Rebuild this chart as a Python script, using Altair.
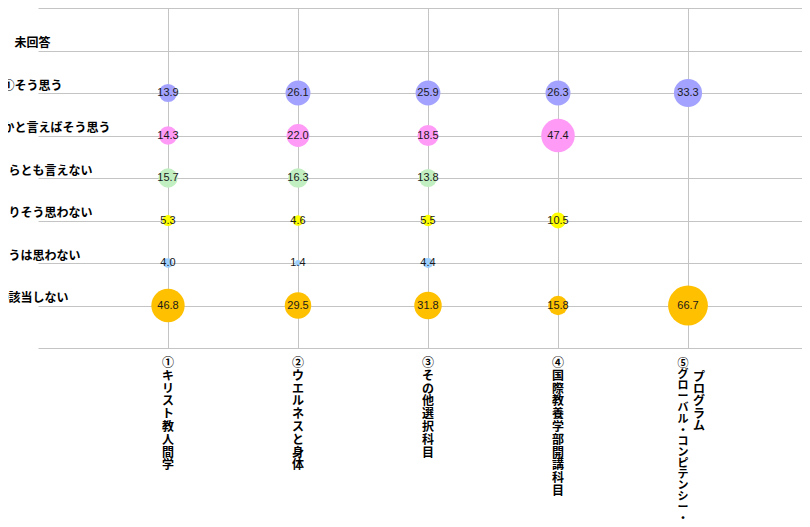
import altair as alt
import pandas as pd

# ---- data -------------------------------------------------------------
courses = [
    "①キリスト教人間学",
    "②ウエルネスと身体",
    "③その他選択科目",
    "④国際教養学部開講科目",
    "⑤グローバル・コンピテンシー・プログラム",
]
# how each course name is broken into vertical columns
course_label_columns = [
    ["①キリスト教人間学"],
    ["②ウエルネスと身体"],
    ["③その他選択科目"],
    ["④国際教養学部開講科目"],
    ["⑤グローバル・コンピテンシー・", "プログラム"],
]

responses = [
    "未回答",
    "①そう思う",
    "②どちらかと言えばそう思う",
    "③どちらとも言えない",
    "④あまりそう思わない",
    "⑤そうは思わない",
    "⑥該当しない",
]

vals_mikaitou = [None, None, None, None, None]
vals_sou_omou = [13.9, 26.1, 25.9, 26.3, 33.3]
vals_dochiraka = [14.3, 22.0, 18.5, 47.4, None]
vals_dochiratomo = [15.7, 16.3, 13.8, None, None]
vals_amari = [5.3, 4.6, 5.5, 10.5, None]
vals_souwa = [4.0, 1.4, 4.4, None, None]
vals_gaitou = [46.8, 29.5, 31.8, 15.8, 66.7]

series = [vals_mikaitou, vals_sou_omou, vals_dochiraka, vals_dochiratomo,
          vals_amari, vals_souwa, vals_gaitou]

colors = ["#FFFFFF", "#A3A3FF", "#FF9BF6", "#C2EFC2", "#FFFF00", "#9DCFFF", "#FFC000"]

# ---- build tables -----------------------------------------------------
n_rows = len(responses)
rows = []
for j, (resp, vals) in enumerate(zip(responses, series)):
    for i, v in enumerate(vals):
        if v is None:
            continue
        rows.append({
            "x": i + 1,
            "y": n_rows - j,
            "value": v,
            "response": resp,
            "label": f"{v:.1f}",
        })
df = pd.DataFrame(rows)

lab_rows = []
for i, cols in enumerate(course_label_columns):
    for k, txt in enumerate(cols):
        lab_rows.append({"x": i + 1, "col": k, "last": i == len(courses) - 1,
                         "chars": list(txt)})
labels_df = pd.DataFrame(lab_rows)

y_label_list = [""] + responses[::-1] + [""]
y_label_expr = "[" + ",".join("'" + s + "'" for s in y_label_list) + "][datum.value]"

W, H = 764, 340
XMAX = W / 130.0

x_scale = alt.Scale(domain=[0, XMAX], nice=False, zero=False)
y_scale = alt.Scale(domain=[0, n_rows + 1], nice=False)

x_enc = alt.X("x:Q", scale=x_scale,
              axis=alt.Axis(values=[1, 2, 3, 4, 5], labels=False, ticks=False,
                            domain=False, title=None, grid=True,
                            gridColor="#C4C4C4"))
y_enc = alt.Y("y:Q", scale=y_scale,
              axis=alt.Axis(values=list(range(0, n_rows + 2)), title=None,
                            domain=False, ticks=False, tickSize=0, grid=True,
                            gridColor="#C4C4C4", labelExpr=y_label_expr,
                            labelAlign="center", labelBaseline="middle",
                            labelPadding=6, labelOffset=-8, labelOverlap=False,
                            labelFont="Noto Sans CJK JP", labelFontWeight="bold",
                            labelFontSize=12, labelColor="#000000"))

bubbles = alt.Chart(df).mark_circle(opacity=1).encode(
    x=x_enc,
    y=y_enc,
    size=alt.Size("value:Q", scale=alt.Scale(domain=[0, 100], range=[0, 2376], zero=True),
                  legend=None),
    color=alt.Color("response:N", scale=alt.Scale(domain=responses, range=colors),
                    legend=None),
)

texts = alt.Chart(df).mark_text(font="Liberation Sans", fontSize=11, color="#1a1a1a",
                                align="center", baseline="middle").encode(
    x=alt.X("x:Q", scale=x_scale),
    y=alt.Y("y:Q", scale=y_scale),
    text="label:N",
)

lab_base = alt.Chart(labels_df)
lab_main = lab_base.transform_filter("!datum.last").mark_text(
    font="Noto Sans CJK JP", fontWeight="bold", fontSize=12, lineHeight=12.8,
    align="center", baseline="top", color="#000000").encode(
    x=alt.X("x:Q", scale=x_scale), y=alt.value(H + 10), text="chars:N")
lab_last0 = lab_base.transform_filter("datum.last && datum.col == 0").mark_text(
    font="Noto Sans CJK JP", fontWeight="bold", fontSize=11, lineHeight=11.1,
    align="center", baseline="top", color="#000000", dx=-5).encode(
    x=alt.X("x:Q", scale=x_scale), y=alt.value(H + 10), text="chars:N")
lab_last1 = lab_base.transform_filter("datum.last && datum.col == 1").mark_text(
    font="Noto Sans CJK JP", fontWeight="bold", fontSize=12, lineHeight=12.2,
    align="center", baseline="top", color="#000000", dx=11).encode(
    x=alt.X("x:Q", scale=x_scale), y=alt.value(H + 24), text="chars:N")

chart = alt.layer(bubbles, texts, lab_main, lab_last0, lab_last1).properties(
    width=W, height=H,
    autosize=alt.AutoSizeParams(type="none"),
    padding={"left": 30, "top": 0, "right": 0, "bottom": 179},
).configure_view(stroke=None)

chart.save("out.html", embed_options={"renderer": "svg", "actions": False})
